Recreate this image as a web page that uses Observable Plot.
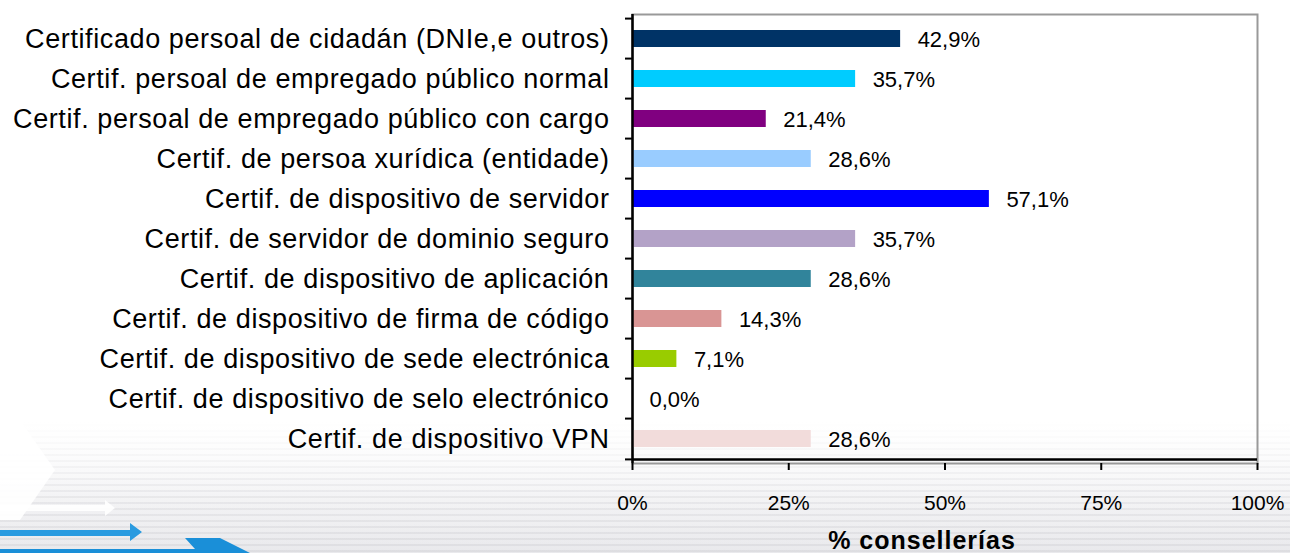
<!DOCTYPE html>
<html>
<head>
<meta charset="utf-8">
<script src="https://cdn.jsdelivr.net/npm/d3@7"></script>
<script src="https://cdn.jsdelivr.net/npm/@observablehq/plot@0.6"></script>
<style>
  html, body { margin: 0; padding: 0; }
  body {
    width: 1290px; height: 553px; overflow: hidden; position: relative;
    background:
      repeating-linear-gradient(to bottom, rgba(255,255,255,0) 0px, rgba(255,255,255,0) 4px, rgba(200,200,205,0.35) 4px, rgba(200,200,205,0.35) 6px),
      linear-gradient(to bottom, #ffffff 0%, #ffffff 70%, #e9e9ec 100%);
  }
  #stripemask {
    position: absolute; left: 0; top: 0; width: 1290px; height: 553px;
    background: linear-gradient(to bottom, rgba(255,255,255,1) 0%, rgba(255,255,255,1) 76%, rgba(255,255,255,0.2) 90%, rgba(255,255,255,0) 100%);
  }
  #deco { position: absolute; left: 0; top: 0; }
  #chart { position: absolute; left: 0; top: 0; }
  #chart g[aria-label="y-axis tick label"] text { letter-spacing: 0.6px; }
  #chart g.xtitle text { letter-spacing: 1px; }
</style>
</head>
<body>
<div id="stripemask"></div>
<svg id="deco" width="1290" height="553">
  <polygon points="0,420 20,420 55,470 20,520 0,520" fill="#ffffff" opacity="0.9"/>
  <polygon points="0,505 105,505 105,500 115,508 105,516 105,511 0,511" fill="#ffffff" opacity="0.9"/>
  <polygon points="0,530 130,530 130,523 142,532 130,541 130,536 0,536" fill="#2a9be0"/>
  <polygon points="0,549 195,549 185,538 220,538 250,553 0,553" fill="#1a8fd8"/>
</svg>
<div id="chart"></div>
<script>
const categories = [
  "Certificado persoal de cidadán (DNIe,e outros)",
  "Certif. persoal de empregado público normal",
  "Certif. persoal de empregado público con cargo",
  "Certif. de persoa xurídica (entidade)",
  "Certif. de dispositivo de servidor",
  "Certif. de servidor de dominio seguro",
  "Certif. de dispositivo de aplicación",
  "Certif. de dispositivo de firma de código",
  "Certif. de dispositivo de sede electrónica",
  "Certif. de dispositivo de selo electrónico",
  "Certif. de dispositivo VPN"
];
const values = [42.9, 35.7, 21.4, 28.6, 57.1, 35.7, 28.6, 14.3, 7.1, 0.0, 28.6];
const colors = ["#003366", "#00CCFF", "#800080", "#99CCFF", "#0000FF", "#B3A2C7", "#31849B", "#D99594", "#99CC00", "#FFFFFF", "#F2DCDB"];
const xTicks = [0, 25, 50, 75, 100];
const xLabel = "% consellerías";

const data = categories.map((c, i) => ({cat: c, value: values[i], color: colors[i]}));

const W = 1290, H = 553;
const mTop = 14, mBottom = 90, mLeft = 632, mRight = 33;
const n = categories.length;
const step = (H - mTop - mBottom) / n;
const pInner = 0.58;

const fmt = v => v.toFixed(1).replace(".", ",") + "%";
const font = "'Liberation Sans', Arial, sans-serif";

const chart = Plot.plot({
  width: W,
  height: H,
  marginTop: mTop,
  marginBottom: mBottom,
  marginLeft: mLeft,
  marginRight: mRight,
  style: {background: "transparent", fontFamily: font, color: "#000"},
  x: {domain: [0, 100], ticks: xTicks},
  y: {domain: categories, paddingInner: pInner, paddingOuter: pInner / 2},
  marks: [
    Plot.frame({stroke: "#999", strokeWidth: 2}),
    Plot.barX(data, {y: "cat", x: "value", fill: d => d.color}),
    Plot.text(data, {y: "cat", x: "value", text: d => fmt(d.value), textAnchor: "start", dx: 17, dy: 1, fontSize: 22, fill: "#000"}),
    Plot.ruleX([0], {stroke: "#000", strokeWidth: 2.5}),
    Plot.ruleY([categories[n - 1]], {x1: 0, x2: 100, dy: step / 2, stroke: "#000", strokeWidth: 2.5}),
    Plot.ruleY(categories, {y: d => d, x1: 0, x2: 0, insetLeft: -7, dy: -step / 2, stroke: "#000", strokeWidth: 2}),
    Plot.ruleY([categories[n - 1]], {x1: 0, x2: 0, insetLeft: -7, dy: step / 2, stroke: "#000", strokeWidth: 2}),
    Plot.axisY({tickSize: 0, tickPadding: 23, fontSize: 27, label: null, fill: "#000"}),
    Plot.axisX({ticks: xTicks, tickSize: 7, tickPadding: 25, strokeWidth: 2, stroke: "#000", fontSize: 21, tickFormat: d => d + "%", label: null, fill: "#000"}),
    Plot.text([xLabel], {frameAnchor: "bottom", dx: -23, dy: 85, fontSize: 25, fontWeight: "bold", fill: "#000", className: "xtitle"})
  ]
});
document.getElementById("chart").appendChild(chart);
</script>
</body>
</html>
